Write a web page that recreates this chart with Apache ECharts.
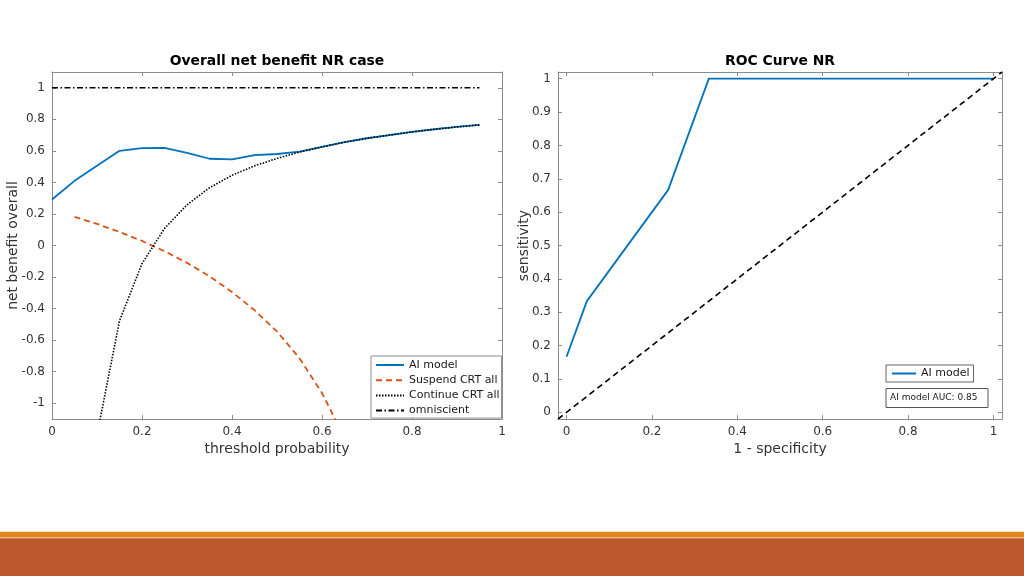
<!DOCTYPE html>
<html>
<head>
<meta charset="utf-8">
<script src="https://cdn.jsdelivr.net/npm/echarts@6/dist/echarts.min.js"></script>
<style>html,body{margin:0;padding:0;background:#fff}#c{width:1024px;height:576px}</style>
</head>
<body>
<div id="c"></div>
<script>
// ---- Data: left chart (net benefit) ----
const nbThresholds   = [0,0.05,0.1,0.15,0.2,0.25,0.3,0.35,0.4,0.45,0.5,0.55,0.6,0.65,0.7,0.75,0.8,0.85,0.9,0.95];
const aiModelNB      = [0.292,0.41,0.505,0.600,0.617,0.619,0.587,0.550,0.546,0.573,0.580,0.595,0.625,0.655,0.680,0.700,0.720,0.737,0.752,0.765];
const suspendThr     = [0.05,0.1,0.15,0.2,0.25,0.3,0.35,0.4,0.45,0.5,0.55,0.6,0.65];
const suspendAllNB   = [0.182,0.137,0.086,0.029,-0.036,-0.11,-0.195,-0.295,-0.41,-0.545,-0.715,-0.935,-1.22];
const continueThr    = [0.1,0.15,0.2,0.25,0.3,0.35,0.4,0.45,0.5,0.55,0.6,0.65,0.7,0.75,0.8,0.85,0.9,0.95];
const continueAllNB  = [-1.20,-0.478,-0.115,0.108,0.258,0.366,0.445,0.505,0.552,0.592,0.625,0.655,0.680,0.700,0.720,0.737,0.752,0.765];
const omniscientThr  = [0,0.95];
const omniscientNB   = [1,1];
const nbXTicks = [0,0.2,0.4,0.6,0.8,1];
const nbYTicks = [-1,-0.8,-0.6,-0.4,-0.2,0,0.2,0.4,0.6,0.8,1];

// ---- Data: right chart (ROC) ----
const rocFPR = [0,0.0476,0.2381,0.3333,1];
const rocTPR = [0.1667,0.3333,0.6667,1,1];
const chanceX = [-0.02,1.02];
const chanceY = [-0.02,1.02];
const rocXTicks = [0,0.2,0.4,0.6,0.8,1];
const rocYTicks = [0,0.1,0.2,0.3,0.4,0.5,0.6,0.7,0.8,0.9,1];
const aucText = 'AI model AUC: 0.85';

const zip = (a,b) => a.map((v,i)=>[v,b[i]]);

const AX = '#8c8c8c', TX = '#333333', FONT = 'DejaVu Sans';
function mkAxis(o){
  const base = {
    type:'value', min:o.min, max:o.max, position:o.pos, gridIndex:o.grid,
    axisLine:{show:true,onZero:false,lineStyle:{color:AX,width:1}},
    axisTick:{show:true,inside:true,length:4,lineStyle:{color:AX},customValues:o.ticks},
    axisLabel:{show:o.labels,customValues:o.ticks,color:TX,fontSize:12,fontFamily:FONT,margin:7},
    splitLine:{show:false}
  };
  if(o.name){
    base.name=o.name; base.nameLocation='middle'; base.nameGap=o.nameGap;
    base.nameMoveOverlap=false;
    base.nameTextStyle={color:TX,fontSize:14,fontFamily:FONT};
    if(o.rot) base.nameRotate=90;
  }
  return base;
}

const chart = echarts.init(document.getElementById('c'), null, {renderer:'canvas'});
const option = {
  animation:false,
  backgroundColor:'#ffffff',
  grid:[
    {left:52,right:522,top:72,bottom:157,outerBoundsMode:'none'},
    {left:558,right:22,top:72,bottom:157,outerBoundsMode:'none'}
  ],
  xAxis:[
    mkAxis({grid:0,min:0,max:1,pos:'bottom',ticks:nbXTicks,labels:true,name:'threshold probability',nameGap:23.5}),
    mkAxis({grid:0,min:0,max:1,pos:'top',ticks:nbXTicks,labels:false}),
    mkAxis({grid:1,min:-0.02,max:1.02,pos:'bottom',ticks:rocXTicks,labels:true,name:'1 - specificity',nameGap:23.5}),
    mkAxis({grid:1,min:-0.02,max:1.02,pos:'top',ticks:rocXTicks,labels:false})
  ],
  yAxis:[
    mkAxis({grid:0,min:-1.1,max:1.1,pos:'left',ticks:nbYTicks,labels:true,name:'net benefit overall',nameGap:32,rot:true}),
    mkAxis({grid:0,min:-1.1,max:1.1,pos:'right',ticks:nbYTicks,labels:false}),
    mkAxis({grid:1,min:-0.02,max:1.02,pos:'left',ticks:rocYTicks,labels:true,name:'sensitivity',nameGap:27,rot:true}),
    mkAxis({grid:1,min:-0.02,max:1.02,pos:'right',ticks:rocYTicks,labels:false})
  ],
  legend:[
    {orient:'vertical',left:371,top:356,padding:[3.5,2,2,4],itemWidth:28,itemHeight:11,itemGap:4.2,
     data:['AI model','Suspend CRT all','Continue CRT all','omniscient'],
     borderColor:AX,borderWidth:1,backgroundColor:'#fff',borderRadius:0,
     itemStyle:{opacity:0},
     textStyle:{color:'#1a1a1a',fontSize:11,fontFamily:FONT}},
    {orient:'vertical',left:886,top:365,padding:[3,4,3,5],itemWidth:24,itemHeight:11,
     data:['AI model'],
     borderColor:'#666',borderWidth:1,backgroundColor:'#fff',borderRadius:0,
     itemStyle:{opacity:0},
     textStyle:{color:'#1a1a1a',fontSize:11,fontFamily:FONT}}
  ],
  series:[
    {name:'AI model',type:'line',xAxisIndex:0,yAxisIndex:0,data:zip(nbThresholds,aiModelNB),
     symbol:'none',showSymbol:false,lineStyle:{color:'#0072BD',width:1.8},itemStyle:{color:'#0072BD'},clip:true},
    {name:'Suspend CRT all',type:'line',xAxisIndex:0,yAxisIndex:0,data:zip(suspendThr,suspendAllNB),
     symbol:'none',showSymbol:false,lineStyle:{color:'#D95319',width:1.8,type:[6,4]},itemStyle:{color:'#D95319'},clip:true},
    {name:'Continue CRT all',type:'line',xAxisIndex:0,yAxisIndex:0,data:zip(continueThr,continueAllNB),
     symbol:'none',showSymbol:false,lineStyle:{color:'#000',width:1.6,type:[1.5,1.5]},itemStyle:{color:'#000'},clip:true},
    {name:'omniscient',type:'line',xAxisIndex:0,yAxisIndex:0,data:zip(omniscientThr,omniscientNB),
     symbol:'none',showSymbol:false,lineStyle:{color:'#000',width:1.6,type:[6,2.5,1.5,2.5]},itemStyle:{color:'#000'},clip:true},
    {name:'AI model',type:'line',xAxisIndex:2,yAxisIndex:2,data:zip(rocFPR,rocTPR),
     symbol:'none',showSymbol:false,lineStyle:{color:'#0072BD',width:1.8},itemStyle:{color:'#0072BD'},clip:true},
    {name:'chance',type:'line',xAxisIndex:2,yAxisIndex:2,data:zip(chanceX,chanceY),
     symbol:'none',showSymbol:false,lineStyle:{color:'#000',width:1.6,type:[6,4]},itemStyle:{color:'#000'},clip:true}
  ],
  graphic:[
    {type:'text',x:277,y:61,style:{text:'Overall net benefit NR case',fill:'#000',font:'bold 13.9px "DejaVu Sans"',align:'center',verticalAlign:'middle'}},
    {type:'text',x:780,y:61,style:{text:'ROC Curve NR',fill:'#000',font:'bold 13.9px "DejaVu Sans"',align:'center',verticalAlign:'middle'}},
    {type:'rect',x:886,y:388.5,shape:{width:102,height:19},style:{fill:'#fff',stroke:'#555',lineWidth:1},z:10},
    {type:'text',x:890,y:398,style:{text:aucText,fill:'#1a1a1a',font:'9px "DejaVu Sans"',align:'left',verticalAlign:'middle'},z:11},
    {type:'rect',x:0,y:531.7,shape:{width:1024,height:5.8},style:{fill:'#E0861E'},silent:true},
    {type:'rect',x:0,y:537.5,shape:{width:1024,height:0.8},style:{fill:'#F2B27A'},silent:true},
    {type:'rect',x:0,y:538.2,shape:{width:1024,height:38},style:{fill:'#BC582C'},silent:true}
  ]
};
chart.setOption(option);
</script>
</body>
</html>
